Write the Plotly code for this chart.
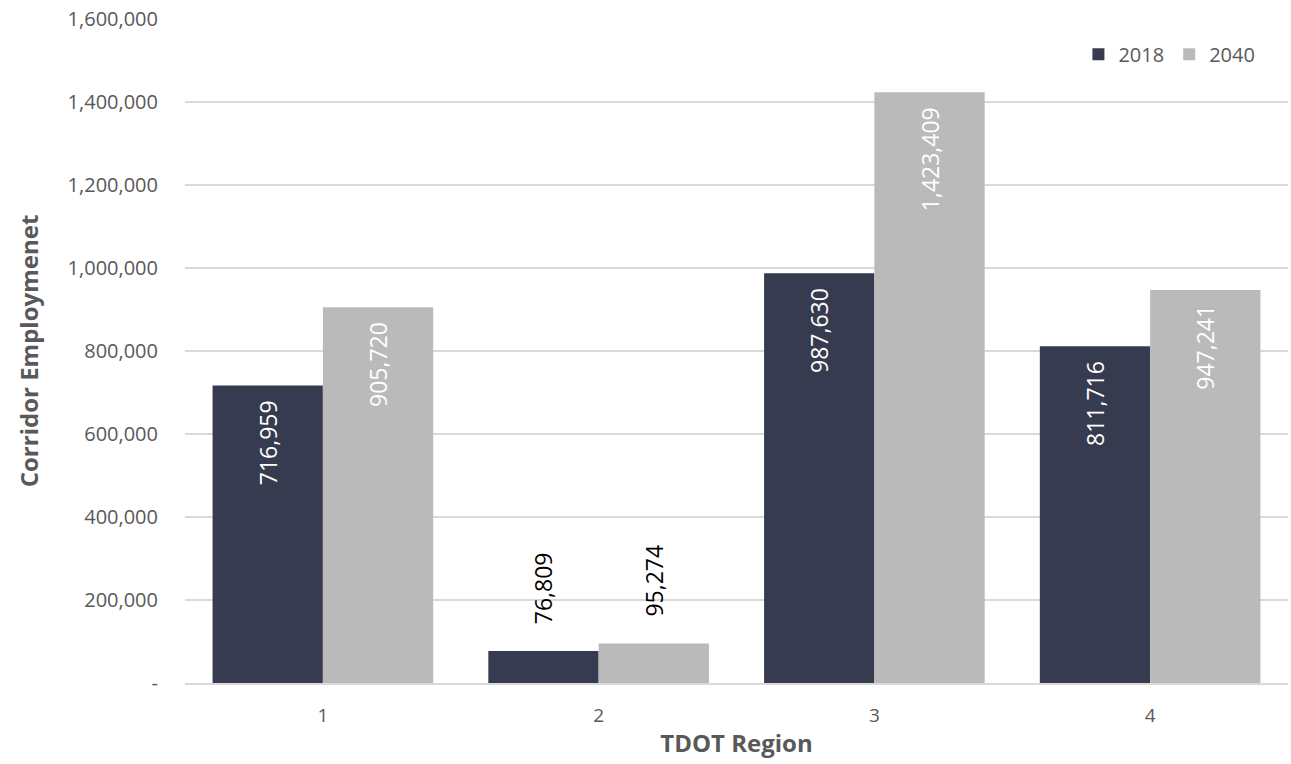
import plotly.graph_objects as go

regions = ["1", "2", "3", "4"]
emp_2018 = [716959, 76809, 987630, 811716]
emp_2040 = [905720, 95274, 1423409, 947241]
y_ticks = [0, 200000, 400000, 600000, 800000, 1000000, 1200000, 1400000, 1600000]
y_ticktext = ["-", "200,000", "400,000", "600,000", "800,000", "1,000,000", "1,200,000", "1,400,000", "1,600,000"]

FONT = "Open Sans"
positions = ["inside", "outside", "inside", "inside"]
PAD = "\u00a0\u00a0"


def label(v, pos):
    return (f"{v:,}" + PAD) if pos == "inside" else (PAD + PAD + f"{v:,}")


fig = go.Figure()
for name, vals, col in [("2018", emp_2018, "#373B50"), ("2040", emp_2040, "#BABABA")]:
    fig.add_trace(go.Bar(
        x=regions, y=vals, name=name, marker=dict(color=col, line=dict(width=0)),
        text=[label(v, p) for v, p in zip(vals, positions)], textposition=positions, textangle=-90,
        insidetextanchor="end",
        insidetextfont=dict(family=FONT, size=23, color="white"),
        outsidetextfont=dict(family=FONT, size=23, color="black"),
        cliponaxis=False,
    ))

fig.update_layout(
    width=1291, height=764,
    margin=dict(l=185, r=3, t=19, b=81),
    paper_bgcolor="white", plot_bgcolor="white",
    barmode="group", bargap=0.2, bargroupgap=0,
    font=dict(family=FONT, color="#595959"),
    uniformtext=dict(mode=False),
    legend=dict(orientation="h", x=0.975, xanchor="right", y=0.947, yanchor="middle",
                font=dict(family=FONT, size=20, color="#595959"), itemwidth=30,
                traceorder="normal"),
    xaxis=dict(title=dict(text="TDOT Region", font=dict(family=FONT, size=24, color="#595959", weight="bold"), standoff=8),
               tickfont=dict(family=FONT, size=19, color="#595959"), ticklabelstandoff=14,
               showline=True, linecolor="#d9d9d9", linewidth=2),
    yaxis=dict(title=dict(text="Corridor Employmenet", font=dict(family=FONT, size=24, color="#595959", weight="bold"), standoff=22),
               range=[0, 1600000], tickvals=y_ticks, ticktext=y_ticktext,
               tickfont=dict(family=FONT, size=20, color="#595959"), ticklabelstandoff=26,
               showgrid=True, gridcolor="#d9d9d9", gridwidth=2, zeroline=False),
)

fig.write_html("out.html")
